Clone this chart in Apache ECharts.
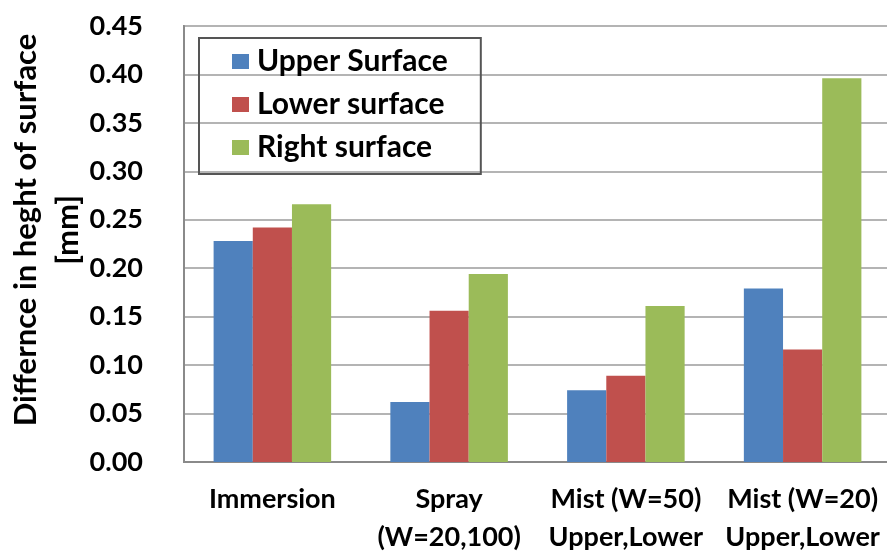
<!DOCTYPE html>
<html>
<head>
<meta charset="utf-8">
<script src="https://cdn.jsdelivr.net/npm/echarts@6/dist/echarts.min.js"></script>
<style>
  html, body { margin: 0; padding: 0; background: #fff; }
  #chart { width: 887px; height: 552px; }
</style>
</head>
<body>
<div id="chart"></div>
<script>
// Surface height difference by coating method
const categories = ['Immersion', 'Spray\n(W=20,100)', 'Mist (W=50)\nUpper,Lower', 'Mist (W=20)\nUpper,Lower'];
const upperSurface = [0.228, 0.062, 0.074, 0.179];
const lowerSurface = [0.242, 0.156, 0.089, 0.116];
const rightSurface = [0.266, 0.194, 0.161, 0.396];
const yTicks = [0, 0.05, 0.10, 0.15, 0.20, 0.25, 0.30, 0.35, 0.40, 0.45];

const FONT = 'Lato';
const chart = echarts.init(document.getElementById('chart'), null, { renderer: 'canvas' });

chart.setOption({
  animation: false,
  backgroundColor: '#ffffff',
  textStyle: { fontFamily: FONT, fontWeight: 'bold', color: '#000' },
  grid: {
    left: 184, top: 26, width: 707, height: 436,
    containLabel: false,
    outerBoundsMode: 'none',
    show: true, borderColor: '#8a8a8a', borderWidth: 2, backgroundColor: 'transparent'
  },
  legend: {
    orient: 'vertical',
    left: 199, top: 38,
    padding: [8, 33, 11, 33],
    itemWidth: 17, itemHeight: 15, itemGap: 12,
    borderColor: '#555', borderWidth: 2,
    icon: 'rect',
    textStyle: { fontFamily: FONT, fontWeight: 'bold', fontSize: 30, lineHeight: 31, color: '#000', padding: [0, 0, 0, 3] },
    data: ['Upper Surface', 'Lower surface', 'Right surface']
  },
  xAxis: {
    type: 'category',
    data: categories,
    axisLine: { show: true, lineStyle: { color: '#8a8a8a', width: 2 } },
    axisTick: { show: false },
    axisLabel: {
      interval: 0, margin: 18,
      fontFamily: FONT, fontWeight: 'bold', fontSize: 27, lineHeight: 38, color: '#000'
    }
  },
  yAxis: {
    type: 'value',
    min: 0, max: 0.45, interval: 0.05,
    axisLine: { show: true, lineStyle: { color: '#8a8a8a', width: 2 } },
    axisTick: { show: false },
    splitLine: { show: true, lineStyle: { color: '#b4b4b4', width: 2 } },
    axisLabel: {
      margin: 41,
      fontFamily: FONT, fontWeight: 'bold', fontSize: 27, color: '#000',
      formatter: v => {
        const hit = yTicks.find(t => Math.abs(t - v) < 1e-9);
        return hit === undefined ? '' : hit.toFixed(2);
      }
    }
  },
  graphic: [{
    type: 'text',
    x: 47, y: 230,
    rotation: Math.PI / 2,
    style: {
      text: 'Differnce in heght of surface\n[mm]',
      fontFamily: FONT, fontWeight: 'bold', fontSize: 31, lineHeight: 42,
      fill: '#000', align: 'center', verticalAlign: 'middle'
    }
  }],
  series: [
    { name: 'Upper Surface', type: 'bar', data: upperSurface, barGap: '0%', barCategoryGap: '33.5%', itemStyle: { color: '#4F81BD' } },
    { name: 'Lower surface', type: 'bar', data: lowerSurface, itemStyle: { color: '#C0504D' } },
    { name: 'Right surface', type: 'bar', data: rightSurface, itemStyle: { color: '#9BBB59' } }
  ]
});
</script>
</body>
</html>
